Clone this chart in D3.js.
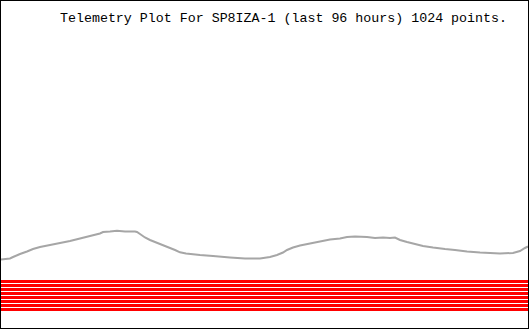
<!DOCTYPE html>
<html><head><meta charset="utf-8">
<script src="https://cdn.jsdelivr.net/npm/d3@7"></script>
<style>html,body{margin:0;padding:0;background:#fff;overflow:hidden}</style>
</head><body>
<svg id="chart" width="530" height="330"></svg>
<script>
const title = "Telemetry Plot For SP8IZA-1 (last 96 hours) 1024 points.";
// hours ago axis (0..96) and telemetry values
const hours = [0,1.64,2.19,3.46,4.74,5.83,7.10,8.93,10.75,12.57,14.39,16.21,18.03,18.58,19.86,21.13,22.59,24.41,24.77,25.32,26.23,27.14,28.05,28.96,29.87,30.79,31.70,32.61,33.70,36.25,38.62,41.71,44.45,47.18,49.00,50.28,51.37,52.10,53.19,54.47,56.29,58.11,59.93,61.75,63.03,64.49,66.67,68.13,69.59,70.86,71.77,72.68,73.96,75.42,76.87,78.70,80.88,82.70,84.89,87.26,89.08,90.90,93.27,94.54,95.45,96];
const values = [70.5,71.5,73,76,78.5,81,83,85,87,89,91.5,94,96.5,98,98.5,99.2,98.5,98.5,98,96,92.5,90,88,86,84,82,80,77.7,76.5,75,74,72.5,71.5,71.5,73,75,77.5,80,82.5,84.5,86.5,88.5,90.5,91.5,93,93.5,93,92,92.5,92,92.5,90,88,86,84,82.5,81,80,78.5,77.5,77,76.5,77,79,82,83.5];
// constant channels (red)
const channels = [48.5,44.5,40.5,36.5,32.5,28.5,24.5,20.5];

const svg = d3.select("#chart");
const x = d3.scaleLinear().domain([0,96]).range([1,528]);
const y = d3.scaleLinear().domain([0,330]).range([330,0]);

svg.append("rect").attr("width",530).attr("height",330).attr("fill","#fff");

svg.selectAll("line.ch").data(channels).enter().append("line")
  .attr("class","ch")
  .attr("x1",x(0)).attr("x2",x(96))
  .attr("y1",d=>y(d)).attr("y2",d=>y(d))
  .attr("stroke","#ff0000").attr("stroke-width",3)
  .attr("shape-rendering","crispEdges");

const pts = hours.map((h,i)=>[h,values[i]]);
svg.append("path").datum(pts)
  .attr("fill","none").attr("stroke","#a6a6a6").attr("stroke-width",2)
  .attr("d", d3.line().x(d=>x(d[0])).y(d=>y(d[1])));

svg.append("rect").attr("x",0.5).attr("y",0.5).attr("width",528).attr("height",328)
  .attr("fill","none").attr("stroke","#000").attr("stroke-width",1)
  .attr("shape-rendering","crispEdges");

svg.append("text").attr("x",60).attr("y",22)
  .attr("font-family","'Liberation Mono', monospace").attr("font-size",13.5)
  .attr("textLength",447).attr("lengthAdjust","spacingAndGlyphs")
  .attr("fill","#000").text(title);
</script>
</body></html>
